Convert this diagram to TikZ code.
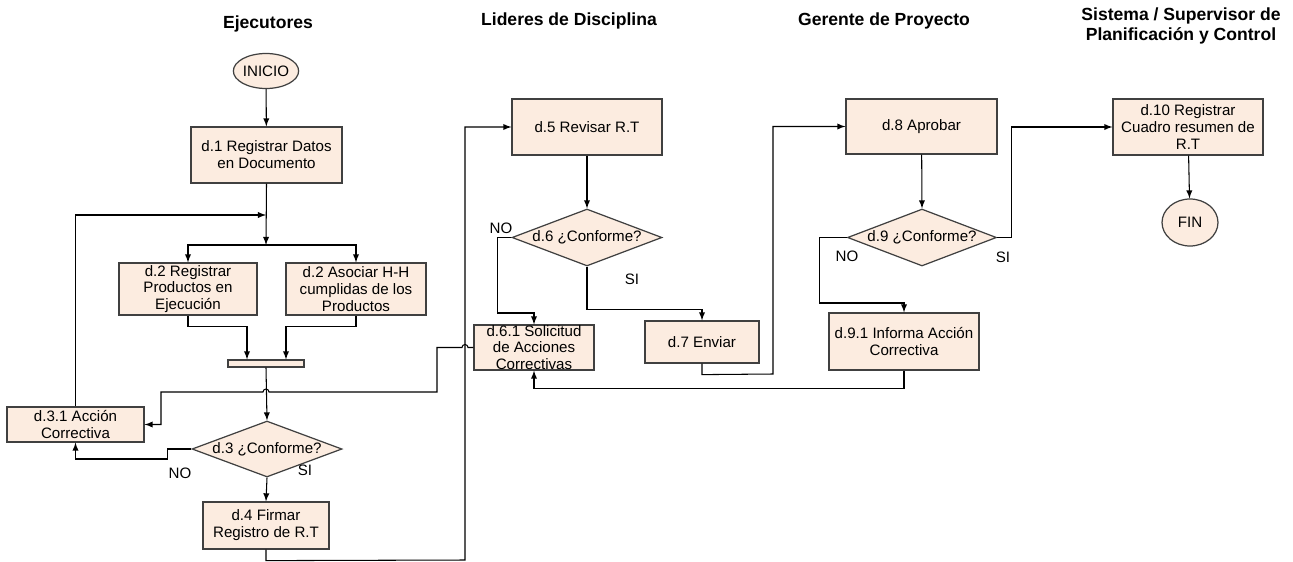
\documentclass[tikz,border=0pt]{standalone}
\usepackage{fontspec}
\setmainfont{Liberation Sans}
\usepackage{tikz}
\usetikzlibrary{shapes.geometric, arrows, positioning, calc}
\definecolor{peach}{RGB}{252,236,224}
\definecolor{edge}{RGB}{64,64,64}
\tikzstyle{arrow} = [->,>=latex]
\tikzstyle{line} = [line width=0.6pt, draw=black]
\tikzstyle{process} = [rectangle, draw=edge, line width=0.7pt, fill=peach, align=center, inner sep=0pt, font=\fontsize{8.6}{9.6}\selectfont]
\tikzstyle{decision} = [diamond, aspect=2.65, draw=edge, line width=0.7pt, fill=peach, inner sep=0pt, font=\fontsize{8.6}{9.6}\selectfont]
\tikzstyle{terminal} = [ellipse, draw=edge, line width=0.7pt, fill=peach, inner sep=0pt, font=\fontsize{8.6}{9.6}\selectfont]
\tikzstyle{lane} = [align=center, font=\bfseries\fontsize{10}{11}\selectfont]
\tikzstyle{answer} = [font=\fontsize{8.6}{9.6}\selectfont]

\begin{document}
\begin{tikzpicture}[x=0.02cm, y=-0.02cm]
    \useasboundingbox (0,0) rectangle (1293,561);

    % Lanes
    \node[lane] (ejec) at (268,24) {Ejecutores};
    \node[lane] (lider) at (569,21) {Lideres de Disciplina};
    \node[lane] (gerente) at (884,21) {Gerente de Proyecto};
    \node[lane] (sistema) at (1181,26) {Sistema / Supervisor de\\Planificación y Control};

    % Ejecutores
    \node[terminal, minimum width=1.08cm, minimum height=0.7cm] (inicio) at (266,71) {INICIO};
    \node[process, minimum width=3.02cm, minimum height=1.12cm] (d1) at (266.5,155) {d.1 Registrar Datos\\en Documento};
    \node[process, minimum width=2.76cm, minimum height=1.04cm] (reg) at (188,289) {d.2 Registrar\\Productos en\\Ejecución};
    \node[process, minimum width=2.8cm, minimum height=1.04cm] (asoc) at (356,289) {d.2 Asociar H-H\\cumplidas de los\\Productos};
    \node[rectangle, draw=edge, line width=0.7pt, fill=peach, minimum width=1.52cm, minimum height=0.14cm, inner sep=0pt] (bar) at (266,363.5) {};
    \node[process, minimum width=2.74cm, minimum height=0.7cm] (accion) at (75.5,424.5) {d.3.1 Acción\\Correctiva};
    \node[decision, minimum width=3cm, minimum height=1.12cm] (d3) at (267,449) {d.3 ¿Conforme?};
    \node[process, minimum width=2.52cm, minimum height=0.94cm] (d4) at (266,525.5) {d.4 Firmar\\Registro de R.T};

    % Lideres de Disciplina
    \node[process, minimum width=3cm, minimum height=1.12cm] (d5) at (587,127) {d.5 Revisar R.T};
    \node[decision, minimum width=3cm, minimum height=1.14cm] (d6) at (587,237.5) {d.6 ¿Conforme?};
    \node[process, minimum width=2.4cm, minimum height=0.9cm] (sol) at (534,347.5) {d.6.1 Solicitud\\de Acciones\\Correctivas};
    \node[process, minimum width=2.28cm, minimum height=0.84cm] (d7) at (702,342) {d.7 Enviar};

    % Gerente de Proyecto
    \node[process, minimum width=3.02cm, minimum height=1.1cm] (d8) at (921.5,126.5) {d.8 Aprobar};
    \node[decision, minimum width=2.98cm, minimum height=1.14cm] (d9) at (922,237.5) {d.9 ¿Conforme?};
    \node[process, minimum width=3cm, minimum height=1.14cm] (inf) at (904,341.5) {d.9.1 Informa Acción\\Correctiva};

    % Sistema / Supervisor
    \node[process, minimum width=3cm, minimum height=1.12cm] (d10) at (1188,127) {d.10 Registrar\\Cuadro resumen de\\R.T};
    \node[terminal, minimum width=1.12cm, minimum height=0.94cm] (fin) at (1190,222.5) {FIN};

    % Answers
    \node[answer] (no3) at (180,473) {NO};
    \node[answer] (si3) at (305,470) {SI};
    \node[answer] (no6) at (501,228) {NO};
    \node[answer] (si6) at (632,279) {SI};
    \node[answer] (no9) at (847,256) {NO};
    \node[answer] (si9) at (1003,257) {SI};

    % Junction points
    \coordinate (split) at (266,245);
    \coordinate (merge) at (266,215);

    % Connectors
    \draw[line, arrow] (inicio) -- (d1);
    \draw[line, arrow] (d1.south) -- (split);
    \draw[line, arrow] (split) -| (reg.north);
    \draw[line, arrow] (split) -| (asoc.north);
    \draw[line, arrow] (accion.north) |- (merge);
    \draw[line, arrow] (reg.south) -- ++(0,11) -| ([xshift=-0.38cm]bar.north);
    \draw[line, arrow] (asoc.south) -- ++(0,11) -| ([xshift=0.4cm]bar.north);
    \draw[line, arrow] (bar.south) -- (d3.north);
    \draw[line, arrow] (d3.west) -- ++(-24,0) -- ++(0,10) -| (accion.south);
    \draw[line, arrow] (d3.south) -- (d4.north);
    \draw[line, arrow] (d4.south) -- ++(0,11) -- (465,560) |- (d5.west);
    \draw[line, arrow] (d5) -- (d6.north);
    \draw[line, arrow] (d6.west) -- ++(-14,0) -- ++(0,75.5) -| (sol.north);
    \draw[line, arrow] (d6.south) -- ++(0,43) -| (d7.north);
    \draw[line, arrow] (d7.south) -- ++(0,11) -- (773,374) |- (d8.west);
    \draw[line, arrow] (d8) -- (d9.north);
    \draw[line, arrow] (d9.west) -- ++(-27,0) -- ++(0,65.5) -| (inf.north);
    \draw[line, arrow] (inf.south) -- ++(0,18) -| (sol.south);
    \draw[line, arrow] (d9.east) -- ++(14,0) |- (d10.west);
    \draw[line, arrow] (d10) -- (fin);
    % d.6.1 back to d.3.1, hopping over crossings
    \draw[line, arrow] (sol.west) -- (468,347.5) arc (0:180:0.06cm) -- (437,347.5) -- (437,392)
        -- (269,392) arc (0:180:0.06cm) -- (161,392) |- (accion.east);

\end{tikzpicture}
\end{document}
